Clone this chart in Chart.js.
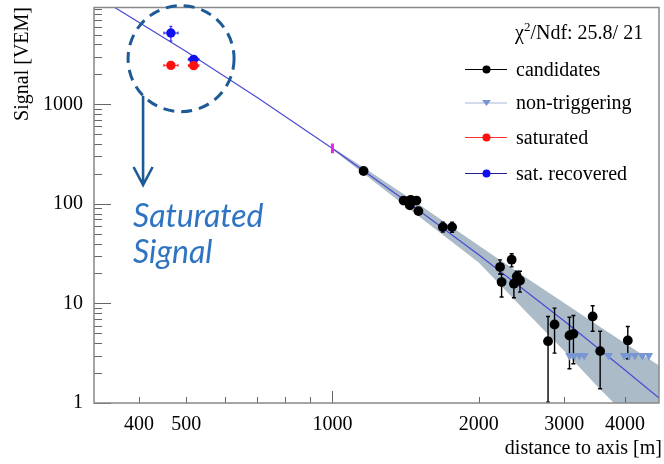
<!DOCTYPE html>
<html>
<head>
<meta charset="utf-8">
<script src="https://cdn.jsdelivr.net/npm/chart.js@4.4.1/dist/chart.umd.min.js"></script>
<style>
  html, body { margin: 0; padding: 0; background: #fff; }
</style>
</head>
<body>
<canvas id="myChart" width="664" height="464"></canvas>
<script>
var element = document.getElementById('myChart').getContext('2d');

var serif = '"Liberation Serif", "Times New Roman", serif';

// candidate stations: distance to axis [m], signal [VEM] and its error range
var candDist   = [1159, 1401, 1449, 1489, 1443, 1503, 1687, 1763, 2213, 2229, 2338, 2395, 2363, 2432, 2778, 2865, 3075, 3133, 3432, 3556, 4054];
var candSignal = [214, 108, 110, 108, 96.6, 84.7, 58.5, 58.5, 23.2, 16.4, 27.5, 18.7, 15.8, 17.0, 4.18, 6.15, 4.77, 4.95, 7.4, 3.32, 4.25];
var candLow    = [204, 103, 105, 103, 92, 80, 52.1, 52, 19.8, 11.6, 23.3, 16.3, 11.4, 13.0, 1.02, 3.17, 2.21, 2.48, 5.26, 1.39, 2.78];
var candHigh   = [224, 113, 115, 113, 101, 89, 65.6, 65.6, 27.4, 19.6, 31.6, 21.1, 18.5, 21.1, 7.4, 8.98, 7.28, 7.57, 9.49, 5.26, 5.87];

// non-triggering stations (plotted at the trigger threshold)
var silentDist   = [3075, 3148, 3223, 3298, 3700, 3983, 4077, 4193, 4342, 4479];
var silentSignal = [3, 3, 3, 3, 3, 3, 3, 3, 3, 3];

// saturated station and its recovered signal
var satDist      = [465, 518];
var satDistLow   = [450, 505];
var satDistHigh  = [481, 531];
var satSignal    = [2466, 2449];
var recSignal    = [5208, 2832];
var recLow       = [4326, 2660];
var recHigh      = [6080, 3010];

// S(1000) with its error
var s1000Dist = [1000];
var s1000     = [360];
var s1000Low  = [322];
var s1000High = [405];

// LDF fit and its uncertainty band
var fitDist   = [350, 500, 700, 1000, 1500, 2000, 3000, 4000, 4700];
var fitSignal = [9930, 3390, 1170, 360, 87.5, 30.8, 6.65, 2.15, 1.12];
var bandDist  = [1000, 1200, 1500, 2000, 2500, 3000, 3500, 4000, 4700];
var bandUpper = [368, 208, 100.5, 38.3, 18.2, 10.1, 6.1, 3.99, 2.38];
var bandLower = [352, 177, 76.2, 25.8, 8.3, 3.32, 1.49, 0.77, 0.34];

// axis ticks
var xTickLabels = [400, 500, 1000, 2000, 3000, 4000];
var xMajorTicks = [1000];
var xMinorTicks = [400, 500, 600, 700, 800, 900, 2000, 3000, 4000];
var yTickLabels = [1, 10, 100, 1000];
var yMinorTicks = [2, 3, 4, 5, 6, 7, 8, 9, 20, 30, 40, 50, 60, 70, 80, 90,
                   200, 300, 400, 500, 600, 700, 800, 900, 2000, 3000, 4000, 5000, 6000, 7000, 8000, 9000];

var chi2 = 25.8, ndf = 21;

function pts(xs, ys) {
    return xs.map(function (x, i) { return {x: x, y: ys[i]}; });
}

var colCand = '#000000';
var colSilent = '#7896d2';
var colSat = '#ff1010';
var colRec = '#1010ee';
var colFit = '#4a4ad6';
var colBand = '#abbbc8';
var colNote = '#1d5a98';

var FIT_INDEX = 5;

var chartData = {
    datasets: [
        {label: 'candidates', data: pts(candDist, candSignal), backgroundColor: colCand, borderColor: colCand,
         pointRadius: 4.9, pointBorderWidth: 0, order: 0, legendLine: '#000000'},
        {label: 'non-triggering', data: pts(silentDist, silentSignal), backgroundColor: colSilent, borderColor: colSilent,
         pointStyle: 'triangle', rotation: 180, pointRadius: 5, pointBorderWidth: 0, order: 0, legendLine: '#a6b8d4'},
        {label: 'saturated', data: pts(satDist, satSignal), backgroundColor: colSat, borderColor: colSat,
         pointRadius: 4.7, pointBorderWidth: 0, order: 0, legendLine: '#ff3030'},
        {label: 'sat. recovered', data: pts(satDist, recSignal), backgroundColor: colRec, borderColor: colRec,
         pointRadius: 4.7, pointBorderWidth: 0, order: 0, legendLine: '#20208a'},
        {label: 'S1000', data: pts(s1000Dist, s1000), pointRadius: 0, order: 1, noLegend: true},
        {label: 'fit', type: 'line', data: pts(fitDist, fitSignal), borderColor: colFit, borderWidth: 1.2,
         pointRadius: 0, fill: false, order: 2, noLegend: true},
        {label: 'band upper', type: 'line', data: pts(bandDist, bandUpper), borderWidth: 0, borderColor: 'rgba(0,0,0,0)',
         pointRadius: 0, fill: false, order: 3, noLegend: true},
        {label: 'band lower', type: 'line', data: pts(bandDist, bandLower), borderWidth: 0, borderColor: 'rgba(0,0,0,0)',
         backgroundColor: colBand, pointRadius: 0, fill: '-1', order: 3, noLegend: true}
    ]
};

// vertical / horizontal error bars, drawn on top of the fit but under the markers
var errorBars = {
    id: 'errorBars',
    afterDatasetDraw: function (chart, args) {
        if (args.index !== FIT_INDEX) return;
        var c = chart.ctx, xs = chart.scales.x, ys = chart.scales.y;
        function vbar(x, lo, hi, col, w, cap) {
            var px = xs.getPixelForValue(x), y1 = ys.getPixelForValue(lo), y2 = ys.getPixelForValue(hi);
            c.strokeStyle = col; c.lineWidth = w;
            c.beginPath(); c.moveTo(px, y1); c.lineTo(px, y2);
            if (cap) {
                c.moveTo(px - cap, y1); c.lineTo(px + cap, y1);
                c.moveTo(px - cap, y2); c.lineTo(px + cap, y2);
            }
            c.stroke();
        }
        function hbar(lo, hi, y, col, w, cap) {
            var py = ys.getPixelForValue(y), x1 = xs.getPixelForValue(lo), x2 = xs.getPixelForValue(hi);
            c.strokeStyle = col; c.lineWidth = w;
            c.beginPath(); c.moveTo(x1, py); c.lineTo(x2, py);
            if (cap) {
                c.moveTo(x1, py - cap); c.lineTo(x1, py + cap);
                c.moveTo(x2, py - cap); c.lineTo(x2, py + cap);
            }
            c.stroke();
        }
        c.save();
        var a = chart.chartArea;
        c.beginPath(); c.rect(a.left, a.top, a.right - a.left, a.bottom - a.top); c.clip();
        for (var i = 0; i < candDist.length; i++) {
            vbar(candDist[i], candLow[i], candHigh[i], '#000', 1.4, 2);
        }
        for (var j = 0; j < satDist.length; j++) {
            hbar(satDistLow[j], satDistHigh[j], satSignal[j], colSat, 1, 1.5);
            hbar(satDistLow[j], satDistHigh[j], recSignal[j], colRec, 1, 1.5);
            vbar(satDist[j], recLow[j], recHigh[j], colRec, 1, 1.5);
        }
        vbar(s1000Dist[0], s1000Low[0], s1000High[0], '#ee22ee', 3, 0);
        c.restore();
    }
};

// ROOT style frame, inward ticks, titles, legend and the saturation note
var decorations = {
    id: 'decorations',
    afterDraw: function (chart) {
        var c = chart.ctx, a = chart.chartArea, xs = chart.scales.x, ys = chart.scales.y;
        c.save();

        // ticks
        c.strokeStyle = '#666'; c.lineWidth = 1;
        c.beginPath();
        xMinorTicks.forEach(function (v) {
            var px = Math.round(xs.getPixelForValue(v)) + 0.5;
            c.moveTo(px, a.bottom); c.lineTo(px, a.bottom - 6);
        });
        xMajorTicks.forEach(function (v) {
            var px = Math.round(xs.getPixelForValue(v)) + 0.5;
            c.moveTo(px, a.bottom); c.lineTo(px, a.bottom - 12);
        });
        yMinorTicks.forEach(function (v) {
            var py = Math.round(ys.getPixelForValue(v)) + 0.5;
            c.moveTo(a.left, py); c.lineTo(a.left + 8, py);
        });
        yTickLabels.forEach(function (v) {
            var py = Math.round(ys.getPixelForValue(v)) + 0.5;
            c.moveTo(a.left, py); c.lineTo(a.left + 17, py);
        });
        c.stroke();

        // frame
        c.strokeStyle = '#888'; c.lineWidth = 1.5;
        c.strokeRect(a.left, a.top, a.right - a.left, a.bottom - a.top);

        // axis titles
        c.fillStyle = '#000';
        c.font = '20px ' + serif;
        c.textAlign = 'right'; c.textBaseline = 'alphabetic';
        c.fillText('distance to axis [m]', 662, 454);
        c.save();
        c.translate(28, 7);
        c.rotate(-Math.PI / 2);
        c.textAlign = 'right';
        c.fillText('Signal [VEM]', 0, 0);
        c.restore();

        // chi2 / ndf
        c.textAlign = 'left';
        var tx = 515, ty = 39;
        c.font = '20px ' + serif;
        c.fillText('\u03c7', tx, ty);
        tx += c.measureText('\u03c7').width;
        c.font = '13px ' + serif;
        c.fillText('2', tx, ty - 8);
        tx += c.measureText('2').width;
        c.font = '20px ' + serif;
        c.fillText('/Ndf: ' + chi2 + '/ ' + ndf, tx, ty);

        // legend
        var rowY = [69.5, 103, 137.5, 173.5];
        var row = 0;
        chart.data.datasets.forEach(function (ds) {
            if (ds.noLegend) return;
            var y = rowY[row++];
            c.strokeStyle = ds.legendLine; c.lineWidth = 1;
            c.beginPath(); c.moveTo(465, y); c.lineTo(507, y); c.stroke();
            c.fillStyle = ds.backgroundColor;
            c.beginPath();
            if (ds.pointStyle === 'triangle') {
                c.moveTo(482, y - 3); c.lineTo(491, y - 3); c.lineTo(486.5, y + 3);
            } else {
                c.arc(486.5, y, 4, 0, Math.PI * 2);
            }
            c.fill();
            c.fillStyle = '#000';
            c.font = '20px ' + serif;
            c.textBaseline = 'alphabetic';
            c.fillText(ds.label, 516, y + 6);
        });

        // dashed circle around the saturated station, arrow and note
        var cx = xs.getPixelForValue(488), cy = ys.getPixelForValue(2877), r = 53;
        c.strokeStyle = colNote; c.lineWidth = 3;
        c.setLineDash([11, 7]);
        c.beginPath(); c.arc(cx, cy, r, 0, Math.PI * 2); c.stroke();
        c.setLineDash([]);
        var ax = cx - 38, ay0 = cy + 37, ay1 = 185;
        c.lineWidth = 2.6;
        c.beginPath();
        c.moveTo(ax, ay0); c.lineTo(ax, ay1);
        c.moveTo(ax - 9.5, ay1 - 18); c.lineTo(ax, ay1); c.lineTo(ax + 9.5, ay1 - 18);
        c.stroke();
        c.fillStyle = '#2e74c2';
        c.font = 'italic 32px Lato, "Open Sans", sans-serif';
        c.textAlign = 'left';
        c.fillText('Saturated', 133, 227);
        c.fillText('Signal', 133, 263);

        c.restore();
    }
};

// keep the plot frame fixed: no extra room for the end tick labels
function fixScale(size) {
    return function (s) {
        if (s.isHorizontal()) s.height = size; else s.width = size;
        s.paddingTop = 0; s.paddingBottom = 0; s.paddingLeft = 0; s.paddingRight = 0;
    };
}

var chartOptions = {
    responsive: false,
    animation: false,
    events: [],
    layout: {padding: {top: 7.5, right: 1, left: 0, bottom: 0}},
    plugins: {legend: {display: false}, tooltip: {enabled: false}},
    scales: {
        x: {
            type: 'logarithmic', min: 323, max: 4700, position: 'bottom',
            afterFit: fixScale(61),
            afterBuildTicks: function (s) { s.ticks = xTickLabels.map(function (v) { return {value: v}; }); },
            ticks: {autoSkip: false, maxRotation: 0, padding: 10, color: '#000',
                    font: {family: serif, size: 20}, callback: function (v) { return String(v); }},
            grid: {display: false, drawTicks: false},
            border: {display: false}
        },
        y: {
            type: 'logarithmic', min: 1, max: 9400, position: 'left',
            afterFit: fixScale(94),
            afterBuildTicks: function (s) { s.ticks = yTickLabels.map(function (v) { return {value: v}; }); },
            ticks: {autoSkip: false, padding: 11, color: '#000',
                    font: {family: serif, size: 20}, callback: function (v) { return String(v); }},
            grid: {display: false, drawTicks: false},
            border: {display: false}
        }
    }
};

var chart = new Chart(element, {type: 'scatter', data: chartData, options: chartOptions, plugins: [errorBars, decorations]});
</script>
</body>
</html>
